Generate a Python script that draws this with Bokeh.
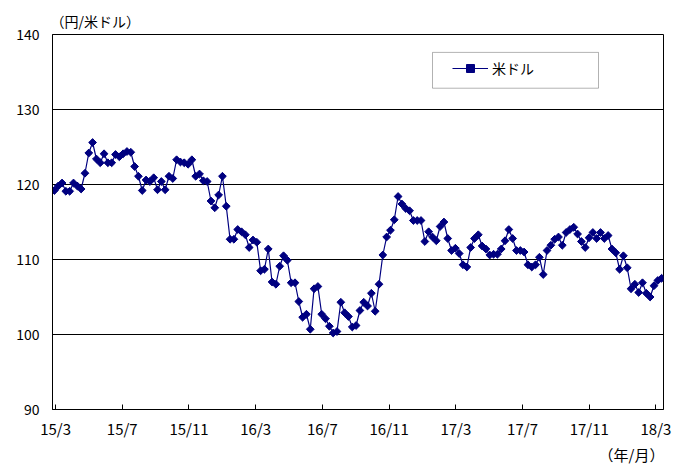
from bokeh.plotting import figure
from bokeh.models import (Range1d, FixedTicker, Legend, LegendItem, Title, BoxAnnotation)
from bokeh.embed import file_html
from bokeh.resources import INLINE
import math

# Weekly USD/JPY (円/米ドル), 2015/3 - 2018/3
usd_jpy = [
    119.2, 119.8, 120.2, 119.1, 119.1, 120.2, 119.8, 119.4, 121.5, 124.2,
    125.6, 123.4, 122.9, 124.1, 122.9, 122.9, 124.0, 123.7, 124.1, 124.4,
    124.3, 122.4, 121.1, 119.2, 120.6, 120.4, 120.9, 119.3, 120.4, 119.3,
    121.1, 120.8, 123.3, 123.0, 122.9, 122.7, 123.3, 121.1, 121.4, 120.5,
    120.4, 117.8, 116.9, 118.6, 121.1, 117.1, 112.7, 112.7, 114.0, 113.7,
    113.3, 111.6, 112.6, 112.3, 108.5, 108.7, 111.4, 107.0, 106.7, 109.1,
    110.5, 109.9, 106.9, 106.9, 104.4, 102.3, 102.7, 100.7, 106.1, 106.4,
    102.7, 102.1, 101.1, 100.2, 100.4, 104.3, 102.9, 102.4, 101.0, 101.2,
    103.2, 104.3, 103.8, 105.5, 103.1, 106.7, 110.6, 113.0, 113.9, 115.3,
    118.4, 117.4, 116.8, 116.5, 115.2, 115.2, 115.2, 112.4, 113.7, 113.0,
    112.5, 114.4, 115.0, 112.8, 111.2, 111.5, 110.8, 109.3, 109.0, 111.6,
    112.8, 113.3, 111.8, 111.4, 110.6, 110.7, 110.7, 111.4, 112.5, 114.0,
    112.8, 111.2, 111.2, 111.0, 109.3, 109.0, 109.3, 110.3, 108.0, 111.2,
    111.9, 112.7, 113.0, 111.9, 113.6, 114.0, 114.3, 113.4, 112.4, 111.6,
    112.9, 113.6, 112.8, 113.6, 112.8, 113.2, 111.4, 110.9, 108.7, 110.5,
    108.9, 106.1, 106.7, 105.6, 106.9, 105.5, 105.0, 106.5, 107.2, 107.5,
]
weeks = list(range(len(usd_jpy)))
tick_labels = ["15/3", "15/7", "15/11", "16/3", "16/7", "16/11", "17/3", "17/7", "17/11", "18/3"]
y_ticks = [90, 100, 110, 120, 130, 140]
series_name = "米ドル"
y_unit = "（円/米ドル）"
x_unit = "（年/月）"

FONT = "Noto Sans CJK JP"
NAVY = "#000080"

weeks_per_tick = 17.47
tick_pos = [0.3 + i * weeks_per_tick for i in range(len(tick_labels))]

n = len(usd_jpy)
p = figure(width=674, height=464, output_backend="svg", toolbar_location=None,
           x_range=Range1d(-0.5, n - 0.5), y_range=Range1d(90, 140),
           min_border_left=52, min_border_right=11, min_border_top=34, min_border_bottom=53)
p.background_fill_color = "white"
p.border_fill_color = "white"
p.outline_line_color = "black"
p.outline_line_width = 1

# unit titles
p.add_layout(Title(text=y_unit, align="left", offset=-2, standoff=8,
                   text_font=FONT, text_font_size="14px", text_font_style="normal",
                   text_color="black"), "above")

# axes
p.xaxis.ticker = FixedTicker(ticks=tick_pos)
p.xaxis.major_label_overrides = {t: l for t, l in zip(tick_pos, tick_labels)}
p.xaxis.major_tick_in = 5
p.xaxis.major_tick_out = 0
p.xaxis.minor_tick_line_color = None
p.xaxis.major_label_standoff = 8
p.xaxis.major_label_text_font_size = "15px"
p.yaxis.ticker = FixedTicker(ticks=y_ticks)
p.yaxis.major_tick_in = 0
p.yaxis.major_tick_out = 0
p.yaxis.minor_tick_line_color = None
p.yaxis.major_label_standoff = 13
p.yaxis.major_label_text_font_size = "14px"
for ax in (p.xaxis[0], p.yaxis[0]):
    ax.axis_line_color = "black"
    ax.axis_line_width = 1
    ax.major_tick_line_color = "black"
    ax.major_label_text_font = FONT
    ax.major_label_text_color = "black"

p.add_layout(Title(text=x_unit, align="right", offset=-1, standoff=0,
                   text_font=FONT, text_font_size="15px", text_font_style="normal",
                   text_color="black"), "below")

p.xgrid.grid_line_color = None
p.ygrid.grid_line_color = "black"
p.ygrid.grid_line_width = 1

# data
ln = p.line(weeks, usd_jpy, line_color=NAVY, line_width=1.2)
mk = p.scatter(weeks, usd_jpy, marker="square", angle=math.pi / 4, size=5.5,
               fill_color=NAVY, line_color=NAVY)

# legend box
xpx = 611 / n
ypx = 377 / 50
box = BoxAnnotation(left=-0.5 + 380 / xpx, right=-0.5 + 546 / xpx,
                    top=140 - 18 / ypx, bottom=140 - 54 / ypx,
                    fill_color="white", fill_alpha=1, line_color="black", line_width=1,
                    level="overlay")
p.add_layout(box)
legend = Legend(items=[LegendItem(label=series_name, renderers=[ln, mk])],
                location=(400, 331), padding=0, margin=0, spacing=0,
                glyph_width=36, glyph_height=20, label_height=20, label_standoff=4,
                border_line_color=None, background_fill_alpha=0,
                label_text_font=FONT, label_text_font_size="14px", label_text_color="black")
p.add_layout(legend)

open("out.html", "w").write(file_html(p, INLINE))
